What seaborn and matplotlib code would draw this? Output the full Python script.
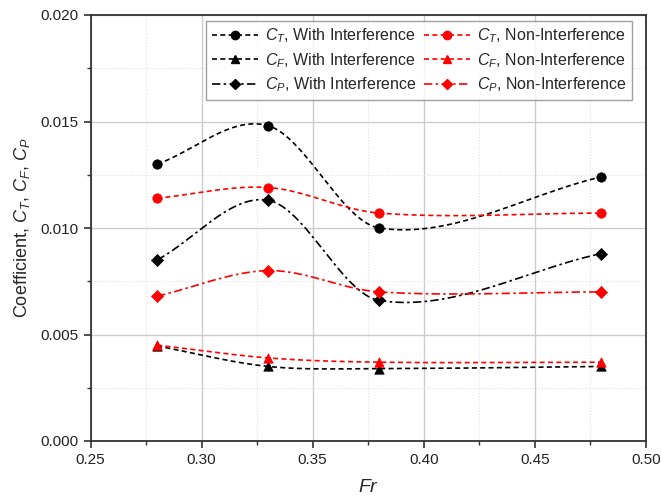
import numpy as np
import matplotlib
matplotlib.use("Agg")
import matplotlib.pyplot as plt
import seaborn as sns
from matplotlib.lines import Line2D
from matplotlib.ticker import MultipleLocator, FormatStrFormatter

# data
fr = [0.28, 0.33, 0.38, 0.48]
ct_with = [0.0130, 0.0148, 0.0100, 0.0124]
cf_with = [0.00446, 0.00350, 0.00340, 0.00350]
cp_with = [0.0085, 0.0113, 0.0066, 0.0088]
ct_non = [0.0114, 0.0119, 0.0107, 0.0107]
cf_non = [0.0045, 0.0039, 0.0037, 0.0037]
cp_non = [0.0068, 0.0080, 0.0070, 0.0070]


def smooth_line(x, y, n=300):
    """Catmull-Rom style cubic Hermite curve through the points (line style only)."""
    x = np.asarray(x, float)
    y = np.asarray(y, float)
    k = len(x)
    m = np.zeros(k)
    m[0] = (y[1] - y[0]) / (x[1] - x[0])
    m[-1] = (y[-1] - y[-2]) / (x[-1] - x[-2])
    for i in range(1, k - 1):
        m[i] = (y[i + 1] - y[i - 1]) / (x[i + 1] - x[i - 1])
    xs = np.linspace(x[0], x[-1], n)
    idx = np.clip(np.searchsorted(x, xs) - 1, 0, k - 2)
    h = x[idx + 1] - x[idx]
    t = (xs - x[idx]) / h
    h00 = 2 * t ** 3 - 3 * t ** 2 + 1
    h10 = t ** 3 - 2 * t ** 2 + t
    h01 = -2 * t ** 3 + 3 * t ** 2
    h11 = t ** 3 - t ** 2
    ys = h00 * y[idx] + h10 * h * m[idx] + h01 * y[idx + 1] + h11 * h * m[idx + 1]
    return xs, ys


sns.set_style("ticks")
plt.rcParams['font.family'] = ['Liberation Sans', 'DejaVu Sans']
plt.rcParams['mathtext.fontset'] = 'custom'
plt.rcParams['mathtext.rm'] = 'Liberation Sans'
plt.rcParams['mathtext.it'] = 'Liberation Sans:italic'

fig = plt.figure(figsize=(6.61, 5.0), dpi=100)
ax = fig.add_axes([0.137, 0.118, 0.840, 0.852])

dash = (0, (3, 2))
dashdot = (0, (5, 2, 1.5, 2))
series = [
    ('$C_T$, With Interference', ct_with, 'black', 'o', dash),
    ('$C_F$, With Interference', cf_with, 'black', '^', dash),
    ('$C_P$, With Interference', cp_with, 'black', 'D', dashdot),
    ('$C_T$, Non-Interference', ct_non, 'red', 'o', dash),
    ('$C_F$, Non-Interference', cf_non, 'red', '^', dash),
    ('$C_P$, Non-Interference', cp_non, 'red', 'D', dashdot),
]

handles = []
for label, vals, color, marker, ls in series:
    xs, ys = smooth_line(fr, vals)
    ax.plot(xs, ys, color=color, ls=ls, lw=1.2, zorder=3)
    sns.scatterplot(x=fr, y=vals, ax=ax, color=color, marker=marker,
                    s=46 if marker != 'D' else 38, edgecolor=color,
                    linewidth=0.5, zorder=4, legend=False)
    handles.append(Line2D([], [], color=color, ls=ls, lw=1.2, marker=marker,
                          markersize=6 if marker != 'D' else 5, label=label))

ax.set_xlim(0.25, 0.50)
ax.set_ylim(0.0, 0.020)
ax.xaxis.set_major_locator(MultipleLocator(0.05))
ax.xaxis.set_minor_locator(MultipleLocator(0.025))
ax.yaxis.set_major_locator(MultipleLocator(0.005))
ax.yaxis.set_minor_locator(MultipleLocator(0.0025))
ax.xaxis.set_major_formatter(FormatStrFormatter('%.2f'))
ax.yaxis.set_major_formatter(FormatStrFormatter('%.3f'))

ax.grid(True, which='major', color='#cccccc', lw=1.0, ls='-', zorder=0)
ax.grid(True, which='minor', color='#e2e2e2', lw=0.8, ls=':', zorder=0)
ax.set_axisbelow(True)

for sp in ax.spines.values():
    sp.set_color('#333333')
    sp.set_linewidth(1.3)
ax.tick_params(which='major', direction='out', length=5, width=1.2,
               color='#333333', labelsize=11, labelcolor='#222222')
ax.tick_params(which='minor', direction='out', length=3, width=1.0, color='#333333')

ax.set_xlabel('$Fr$', fontsize=14, labelpad=9)
ax.set_ylabel('Coefficient, $C_T$, $C_F$, $C_P$', fontsize=13, labelpad=6)

leg = ax.legend(handles=handles, ncol=2, loc='upper right',
                bbox_to_anchor=(0.975, 0.986), borderaxespad=0, fontsize=11.5,
                frameon=True, fancybox=False, edgecolor='#888888',
                handlelength=2.9, handletextpad=0.4, columnspacing=0.5,
                labelspacing=0.36, borderpad=0.35)
leg.get_frame().set_linewidth(1.0)

fig.savefig('out.png', dpi=100)
